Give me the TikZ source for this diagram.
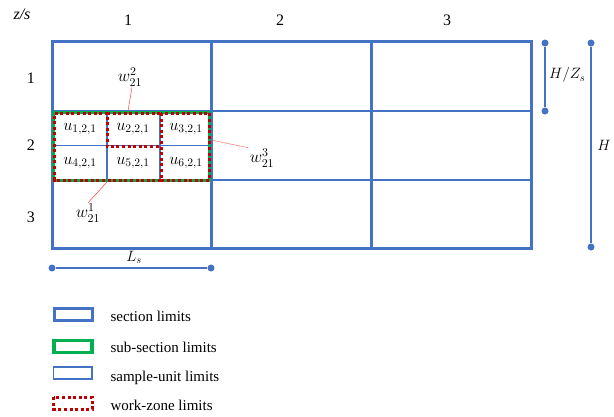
\RequirePackage{fix-cm}
\documentclass[tikz,border=0pt]{standalone}
\usepackage{fontspec}
\setmainfont{Liberation Serif}
\definecolor{secblue}{RGB}{68,114,196}
\definecolor{subgreen}{RGB}{0,176,80}
\definecolor{wzred}{RGB}{192,0,0}
\tikzset{
  section/.style={draw=secblue, line width=3pt},
  sample/.style={draw=secblue, line width=1.3pt},
  subsec/.style={draw=subgreen, line width=3.2pt},
  workzone/.style={draw=wzred, line width=3pt, dash pattern=on 3pt off 2.6pt},
  leader/.style={draw=red!75, line width=0.5pt},
  dimline/.style={draw=secblue, line width=1.2pt},
  dimdot/.style={circle, fill=secblue, inner sep=0pt, minimum size=7pt},
  hdr/.style={font=\fontsize{16}{18}\selectfont},
  cell/.style={font=\fontsize{16.5}{18}\selectfont, inner sep=1pt},
  lab/.style={font=\fontsize{17}{19}\selectfont, inner sep=1pt},
  leg/.style={anchor=west, font=\fontsize{15}{17}\selectfont},
}
\begin{document}
\begin{tikzpicture}[x=1pt,y=-1pt]
\useasboundingbox (0,0) rectangle (614,416);
% headers
\node[hdr] (zs) at (22,14) {\textit{z/s}};
\node[hdr] (c1) at (128,20) {1};
\node[hdr] (c2) at (280,20) {2};
\node[hdr] (c3) at (447,20) {3};
\node[hdr] (r1) at (31,78) {1};
\node[hdr] (r2) at (31,145) {2};
\node[hdr] (r3) at (31,217) {3};
% sample-unit lines
\draw[sample] (52,111) -- (531,111);
\draw[sample] (52,180) -- (531,180);
\draw[sample] (52,145.5) -- (211,145.5);
\draw[sample] (107,111) -- (107,180);
\draw[sample] (160,111) -- (160,180);
% sections
\draw[section] (52,41) rectangle (211,248);
\draw[section] (211,41) rectangle (371,248);
\draw[section] (371,41) rectangle (531,248);
% sub-section
\draw[subsec] (53.5,112.5) rectangle (209.5,180.5);
% work zones (shared borders drawn once)
\draw[workzone] (161,113) rectangle (209.5,180);
\draw[workzone] (161,180) -- (54.5,180) -- (54.5,113) -- (107,113) -- (107,146.5) -- (161,146.5);
\draw[workzone] (107,113) -- (161,113);
% cell labels
\node[cell] (u1) at (80,129) {$u_{1,2,1}$};
\node[cell] (u2) at (133,129) {$u_{2,2,1}$};
\node[cell] (u3) at (186,129) {$u_{3,2,1}$};
\node[cell] (u4) at (80,163) {$u_{4,2,1}$};
\node[cell] (u5) at (133,163) {$u_{5,2,1}$};
\node[cell] (u6) at (186,163) {$u_{6,2,1}$};
% work-zone labels
\node[lab] (w2) at (130,77) {$w_{21}^2$};
\coordinate (w2e) at (128,111);
\draw[leader] (w2.south) ++(2,0) -- (w2e);
\node[lab] (w3) at (262,158) {$w_{21}^3$};
\coordinate (w3e) at (211,140);
\draw[leader, dash pattern=on 1pt off 0.6pt] (w3e) -- (w3.north west);
\node[lab] (w1) at (88,213) {$w_{21}^1$};
\coordinate (w1e) at (107,182);
\draw[leader] (w1e) -- (w1.north);
% dimensions
\node[dimdot] (hz1) at (545,43) {};
\node[dimdot] (hz2) at (545,111) {};
\draw[dimline] (hz1) -- (hz2);
\node[lab, anchor=west, font=\fontsize{15}{17}\selectfont] (hzl) at (548,75) {$H/Z_s$};
\node[dimdot] (h1) at (591,43) {};
\node[dimdot] (h2) at (591,247) {};
\draw[dimline] (h1) -- (h2);
\node[lab, font=\fontsize{15}{17}\selectfont] (hl) at (604,145) {$H$};
\node[dimdot] (l1) at (52,268) {};
\node[dimdot] (l2) at (211,268) {};
\draw[dimline] (l1) -- (l2);
\node[lab, font=\fontsize{15}{17}\selectfont] (ll) at (134,257) {$L_s$};
% legend
\draw[section] (54,308.5) rectangle (92,320.5);
\node[leg] (t1) at (107,316) {section limits};
\draw[subsec] (54,340.5) rectangle (92,352.5);
\node[leg] (t2) at (107,347) {sub-section limits};
\draw[sample] (53.5,367) rectangle (92,379);
\node[leg] (t3) at (107,378) {sample-unit limits};
\draw[workzone] (53.5,397) rectangle (92,409);
\node[leg] (t4) at (107,405) {work-zone limits};
\end{tikzpicture}
\end{document}
